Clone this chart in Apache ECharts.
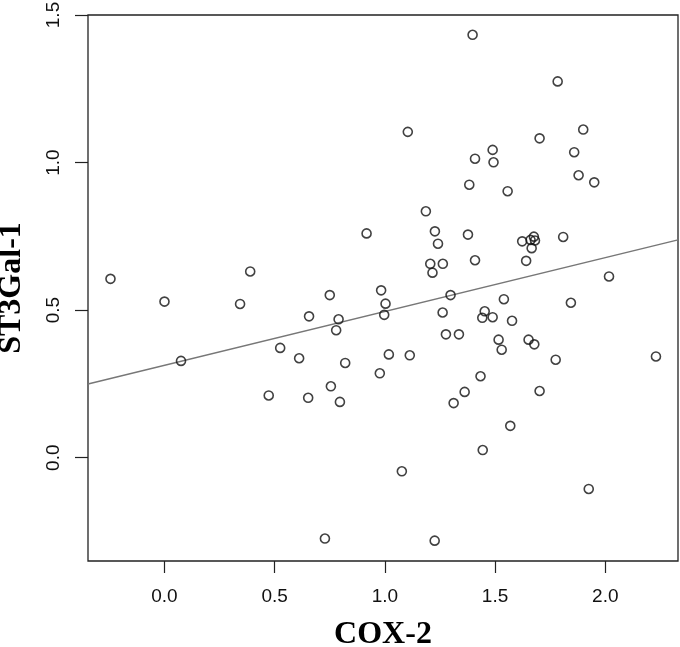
<!DOCTYPE html>
<html>
<head>
<meta charset="utf-8">
<script src="https://cdn.jsdelivr.net/npm/echarts@6/dist/echarts.min.js"></script>
<style>
html,body{margin:0;padding:0;background:#fff;}
#chart{width:680px;height:647px;}
</style>
</head>
<body>
<div id="chart"></div>
<script>
// COX-2 values (x)
const cox2 = [
  -0.245, 0.389, 1.398, 1.104, 1.409, 1.383, 1.186, 0.917, 1.227, 1.241,
  1.377, 1.206, 1.263, 1.216, 1.409, 1.784, 1.900, 1.702, 1.489, 1.493,
  1.859, 1.879, 1.950, 1.557, 1.623, 1.676, 1.661, 1.666, 1.681, 1.641,
  1.809, 2.017, 0.000, 0.343, 0.075, 0.525, 0.473, 0.750, 0.983, 1.003,
  0.997, 0.656, 0.790, 0.779, 1.298, 1.262, 1.277, 1.336, 1.442, 0.611,
  0.820, 1.018, 1.113, 0.977, 0.755, 0.652, 0.796, 1.362, 1.312, 1.434,
  1.444, 1.077, 0.728, 1.226, 1.540, 1.844, 1.453, 1.489, 1.577, 1.516,
  1.530, 1.652, 1.678, 1.775, 2.230, 1.702, 1.569, 1.925
];
// ST3Gal-1 values (y)
const st3gal1 = [
  0.606, 0.631, 1.433, 1.104, 1.013, 0.925, 0.835, 0.760, 0.767, 0.725,
  0.756, 0.657, 0.657, 0.627, 0.669, 1.275, 1.112, 1.082, 1.043, 1.001,
  1.035, 0.957, 0.933, 0.903, 0.733, 0.749, 0.738, 0.710, 0.736, 0.667,
  0.748, 0.614, 0.529, 0.521, 0.328, 0.372, 0.211, 0.551, 0.567, 0.522,
  0.484, 0.479, 0.469, 0.432, 0.551, 0.492, 0.418, 0.418, 0.474, 0.337,
  0.321, 0.350, 0.347, 0.286, 0.242, 0.203, 0.189, 0.223, 0.185, 0.276,
  0.026, -0.046, -0.274, -0.281, 0.537, 0.525, 0.496, 0.476, 0.464, 0.400,
  0.366, 0.400, 0.384, 0.332, 0.343, 0.226, 0.108, -0.106
];
// Regression line endpoints
const fitX = [-0.347, 2.330];
const fitY = [0.250, 0.738];
// Tick values
const xTicks = [0.0, 0.5, 1.0, 1.5, 2.0];
const yTicks = [0.0, 0.5, 1.0, 1.5];

const points = cox2.map((x, i) => [x, st3gal1[i]]);
const fitLine = fitX.map((x, i) => [x, fitY[i]]);

const chart = echarts.init(document.getElementById('chart'), null, {renderer: 'canvas'});
chart.setOption({
  animation: false,
  backgroundColor: '#ffffff',
  grid: {
    left: 88, top: 15, right: 2, bottom: 86,
    containLabel: false,
    outerBoundsMode: 'none',
    show: true, borderColor: '#222', borderWidth: 1.3, backgroundColor: 'transparent'
  },
  xAxis: {
    type: 'value',
    min: -0.347, max: 2.330,
    name: 'COX-2',
    nameLocation: 'middle',
    nameGap: 58,
    nameTextStyle: {fontFamily: 'Liberation Serif', fontWeight: 'bold', fontSize: 32, color: '#000'},
    axisLine: {show: false, onZero: false},
    splitLine: {show: false},
    axisTick: {show: true, length: 12, customValues: xTicks, lineStyle: {color: '#222', width: 1.2}},
    axisLabel: {
      customValues: xTicks, margin: 26,
      formatter: v => v.toFixed(1),
      fontFamily: 'Liberation Sans', fontSize: 19, color: '#111'
    }
  },
  yAxis: {
    type: 'value',
    min: -0.35, max: 1.5,
    name: 'ST3Gal-1',
    nameLocation: 'middle',
    nameRotate: 90,
    nameGap: 60,
    nameTextStyle: {fontFamily: 'Liberation Serif', fontWeight: 'bold', fontSize: 32, color: '#000'},
    axisLine: {show: false, onZero: false},
    splitLine: {show: false},
    axisTick: {show: true, length: 13, customValues: yTicks, lineStyle: {color: '#222', width: 1.2}},
    axisLabel: {
      customValues: yTicks, margin: 25, rotate: 90,
      formatter: v => v.toFixed(1),
      fontFamily: 'Liberation Sans', fontSize: 19, color: '#111'
    }
  },
  series: [
    {
      type: 'line',
      data: fitLine,
      symbol: 'none',
      lineStyle: {color: '#777', width: 1.5},
      z: 1
    },
    {
      type: 'scatter',
      data: points,
      symbol: 'circle',
      symbolSize: 9,
      itemStyle: {color: 'rgba(0,0,0,0)', borderColor: '#111', borderWidth: 1.6},
      z: 2
    }
  ]
});
</script>
</body>
</html>
